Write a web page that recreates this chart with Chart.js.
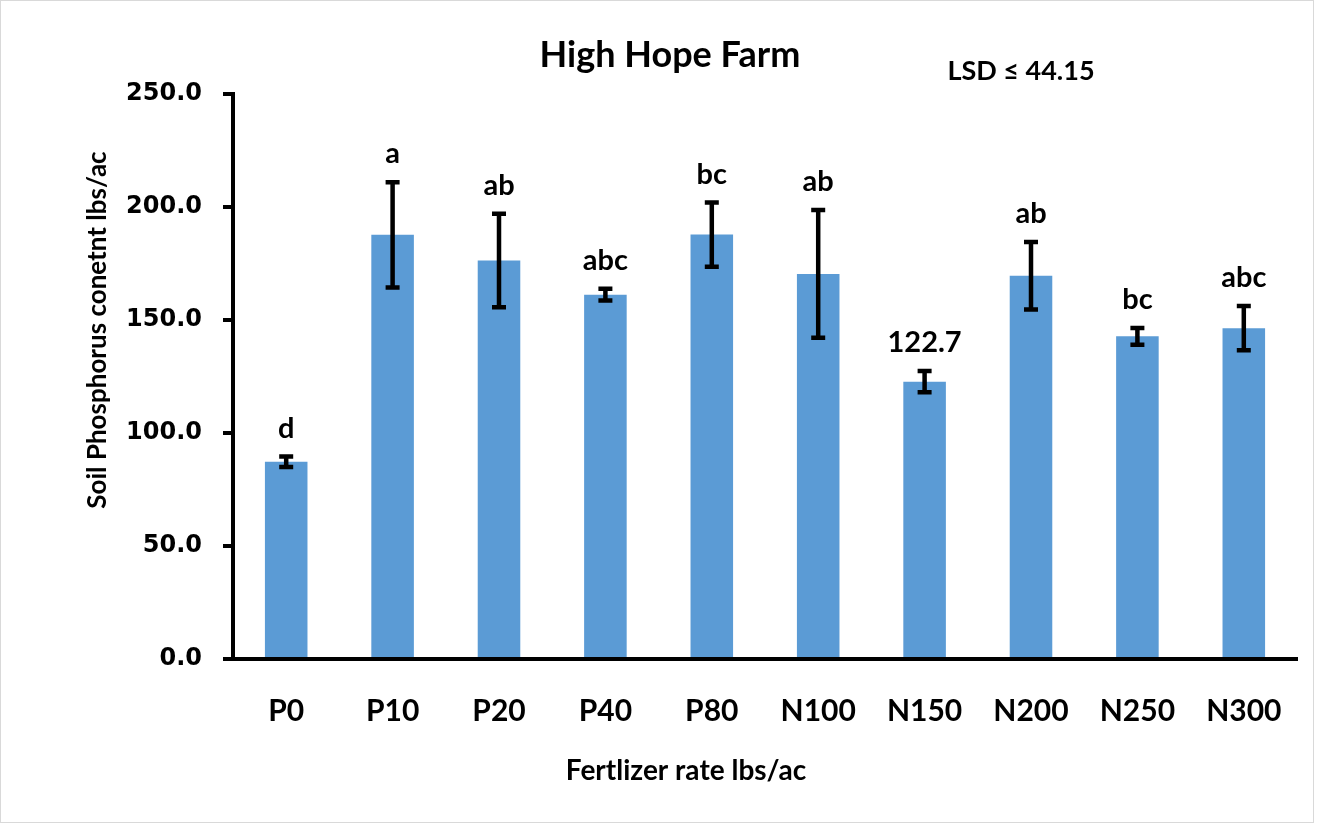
<!DOCTYPE html>
<html>
<head>
<meta charset="utf-8">
<title>High Hope Farm</title>
<script src="https://cdn.jsdelivr.net/npm/chart.js@4.4.1/dist/chart.umd.min.js"></script>
<style>
    html, body { margin: 0; padding: 0; background: #fff; }
    #wrap { position: relative; width: 1317px; height: 826px; }
    #frame { position: absolute; left: 0; top: 0; width: 1312px; height: 821px; border: 1px solid #d9d9d9; pointer-events: none; }
</style>
</head>
<body>
<div id="wrap">
    <canvas id="chart" width="1317" height="826"></canvas>
    <div id="frame"></div>
</div>
<script>
var rates = ["P0", "P10", "P20", "P40", "P80", "N100", "N150", "N200", "N250", "N300"];
var phosphorus = [87.3, 187.7, 176.3, 161.2, 187.8, 170.4, 122.7, 169.6, 142.8, 146.4];
var stdErr = [2.3, 23.3, 20.7, 2.6, 14.2, 28.3, 4.7, 14.9, 3.7, 9.8];
var groups = ["d", "a", "ab", "abc", "bc", "ab", "122.7", "ab", "bc", "abc"];
var yMin = 0;
var yMax = 250;
var yStep = 50;

var chartTitle = "High Hope Farm";
var lsdText = "LSD \u2264 44.15";
var xTitle = "Fertlizer rate lbs/ac";
var yTitle = "Soil Phosphorus conetnt lbs/ac";

// error bars and letter groups above each bar
var errorBars = {
    id: "errorBars",
    afterDatasetsDraw: function (chart) {
        var ctx = chart.ctx;
        var y = chart.scales.y;
        var meta = chart.getDatasetMeta(0);
        ctx.save();
        ctx.strokeStyle = "#000";
        ctx.lineWidth = 4.5;
        ctx.fillStyle = "#000";
        ctx.font = "bold 29px Lato";
        ctx.textAlign = "center";
        ctx.textBaseline = "middle";
        meta.data.forEach(function (bar, i) {
            var top = y.getPixelForValue(phosphorus[i] + stdErr[i]);
            var bottom = y.getPixelForValue(phosphorus[i] - stdErr[i]);
            ctx.beginPath();
            ctx.moveTo(bar.x, top);
            ctx.lineTo(bar.x, bottom);
            ctx.moveTo(bar.x - 7, top);
            ctx.lineTo(bar.x + 7, top);
            ctx.moveTo(bar.x - 7, bottom);
            ctx.lineTo(bar.x + 7, bottom);
            ctx.stroke();
            ctx.fillText(groups[i], bar.x, top - 28);
        });
        ctx.restore();
    }
};

// titles placed where the original has them
var titles = {
    id: "titles",
    afterDraw: function (chart) {
        var ctx = chart.ctx;
        ctx.save();
        ctx.fillStyle = "#000";
        ctx.textAlign = "center";
        ctx.textBaseline = "middle";
        ctx.font = "bold 36px Lato";
        ctx.fillText(chartTitle, 670, 55);
        ctx.font = "bold 27px Lato";
        ctx.fillText(lsdText, 1021, 71);
        ctx.font = "bold 28px Lato";
        ctx.fillText(xTitle, 686, 771);
        ctx.translate(98, 330);
        ctx.rotate(-Math.PI / 2);
        ctx.font = "bold 26px Lato";
        ctx.fillText(yTitle, 0, 0);
        ctx.restore();
    }
};

var ctx = document.getElementById("chart").getContext("2d");
var chart = new Chart(ctx, {
    type: "bar",
    data: {
        labels: rates,
        datasets: [
            {
                label: "Soil P",
                data: phosphorus,
                backgroundColor: "#5b9bd5",
                borderWidth: 0,
                barPercentage: 0.4,
                categoryPercentage: 1
            }
        ]
    },
    options: {
        responsive: false,
        animation: false,
        layout: {
            padding: {left: 0, right: 20, top: 94, bottom: 0}
        },
        plugins: {
            legend: {display: false},
            tooltip: {enabled: false}
        },
        scales: {
            x: {
                grid: {display: false},
                border: {display: true, color: "#000", width: 4},
                ticks: {
                    color: "#000",
                    font: {family: "Lato", size: 30, weight: "bold"},
                    padding: 26,
                    maxRotation: 0,
                    autoSkip: false
                },
                afterFit: function (scale) {
                    scale.height = 167;
                }
            },
            y: {
                min: yMin,
                max: yMax,
                grid: {
                    display: true,
                    drawOnChartArea: false,
                    drawTicks: true,
                    tickLength: 10,
                    color: "#000",
                    lineWidth: 4
                },
                border: {display: true, color: "#000", width: 4},
                ticks: {
                    stepSize: yStep,
                    color: "#000",
                    font: {family: "DejaVu Sans", size: 24, weight: "bold"},
                    padding: 21,
                    callback: function (v) {
                        return v.toFixed(1);
                    }
                },
                afterFit: function (scale) {
                    scale.width = 233;
                }
            }
        }
    },
    plugins: [errorBars, titles]
});
</script>
</body>
</html>
